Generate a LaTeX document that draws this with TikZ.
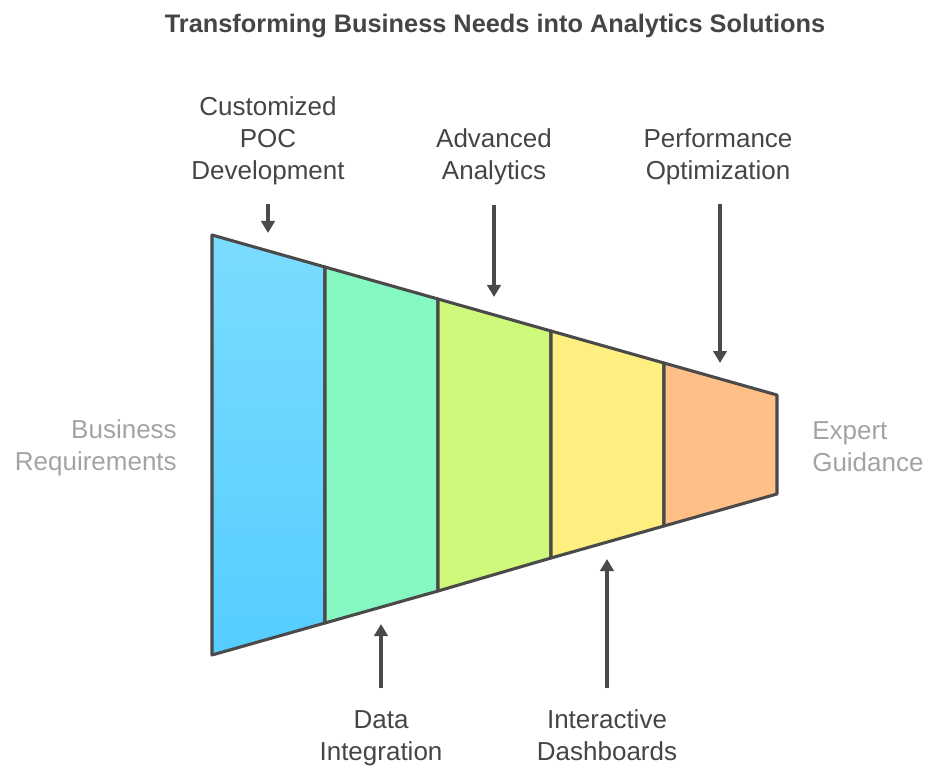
\documentclass[tikz,border=0pt]{standalone}
\usepackage{fontspec}
\setmainfont{Liberation Sans}
\usetikzlibrary{arrows.meta}

\definecolor{ink}{HTML}{4A4A4A}
\definecolor{txt}{HTML}{454545}
\definecolor{pale}{HTML}{A3A3A3}
\definecolor{segA}{HTML}{7ADCFF}
\definecolor{segAb}{HTML}{55CDFF}
\definecolor{segB}{HTML}{86F9C2}
\definecolor{segC}{HTML}{CFF97A}
\definecolor{segD}{HTML}{FFEE80}
\definecolor{segE}{HTML}{FFC087}

\tikzset{
  seg/.style={draw=ink, line width=2.3pt, line join=round},
  lbl/.style={inner sep=0pt, align=center, text=txt, font=\fontsize{19.5}{24}\selectfont},
  side/.style={inner sep=0pt, text=pale, font=\fontsize{19.5}{24}\selectfont},
  flow/.style={->, draw=ink, line width=2.3pt}
}

\begin{document}
\begin{tikzpicture}
            [x=0.75pt, y=-0.75pt, >={Triangle[width=10pt,length=9pt]}]
            \useasboundingbox (0,0) rectangle (927,766);

            \node[font=\bfseries\fontsize{19}{22}\selectfont, text=txt, inner sep=0pt] (title) at (495,26) {Transforming Business Needs into Analytics Solutions};

            % funnel corners
            \coordinate (t0) at (212,235); \coordinate (b0) at (212,655);
            \coordinate (t1) at (325,267); \coordinate (b1) at (325,623);
            \coordinate (t2) at (438,299); \coordinate (b2) at (438,591);
            \coordinate (t3) at (551,331); \coordinate (b3) at (551,558);
            \coordinate (t4) at (664,363); \coordinate (b4) at (664,526);
            \coordinate (t5) at (777,395); \coordinate (b5) at (777,494);

            \shade[seg, top color=segA, bottom color=segAb] (t0) -- (t1) -- (b1) -- (b0) -- cycle;
            \filldraw[seg, fill=segB] (t1) -- (t2) -- (b2) -- (b1) -- cycle;
            \filldraw[seg, fill=segC] (t2) -- (t3) -- (b3) -- (b2) -- cycle;
            \filldraw[seg, fill=segD] (t3) -- (t4) -- (b4) -- (b3) -- cycle;
            \filldraw[seg, fill=segE] (t4) -- (t5) -- (b5) -- (b4) -- cycle;

            \node[side, anchor=east, align=right] (req) at (177,448) {Business\\Requirements};
            \node[side, anchor=west, align=left] (expert) at (812,447) {Expert\\Guidance};

            \node[lbl] (poc) at (268,141) {Customized\\POC\\Development};
            \node[lbl] (adv) at (494,157) {Advanced\\Analytics};
            \node[lbl] (perf) at (718,157) {Performance\\Optimization};
            \node[lbl] (data) at (381,738) {Data\\Integration};
            \node[lbl] (dash) at (607,735) {Interactive\\Dashboards};

            % arrow ends
            \coordinate (pocA) at (268,204); \coordinate (pocB) at (268,233);
            \coordinate (advA) at (494,205); \coordinate (advB) at (494,297);
            \coordinate (perfA) at (720,204); \coordinate (perfB) at (720,363);
            \coordinate (dataA) at (381,688); \coordinate (dataB) at (381,624);
            \coordinate (dashA) at (607,688); \coordinate (dashB) at (607,559);

            \draw[flow] (pocA) -- (pocB);
            \draw[flow] (advA) -- (advB);
            \draw[flow] (perfA) -- (perfB);
            \draw[flow] (dataA) -- (dataB);
            \draw[flow] (dashA) -- (dashB);
        \end{tikzpicture}
\end{document}
